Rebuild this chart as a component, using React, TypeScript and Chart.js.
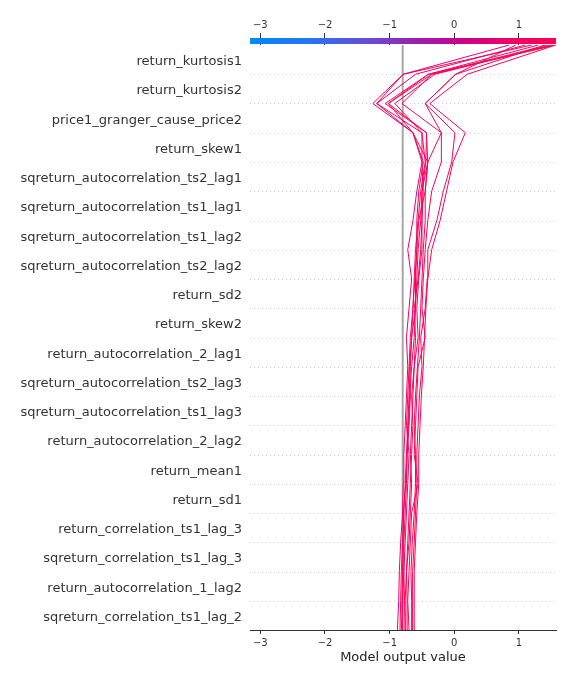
import React, { useEffect, useRef } from 'react';
import { Chart, registerables } from 'chart.js';

Chart.register(...registerables);

// Features, listed top to bottom
const features = [
  'return_kurtosis1',
  'return_kurtosis2',
  'price1_granger_cause_price2',
  'return_skew1',
  'sqreturn_autocorrelation_ts2_lag1',
  'sqreturn_autocorrelation_ts1_lag1',
  'sqreturn_autocorrelation_ts1_lag2',
  'sqreturn_autocorrelation_ts2_lag2',
  'return_sd2',
  'return_skew2',
  'return_autocorrelation_2_lag1',
  'sqreturn_autocorrelation_ts2_lag3',
  'sqreturn_autocorrelation_ts1_lag3',
  'return_autocorrelation_2_lag2',
  'return_mean1',
  'return_sd1',
  'return_correlation_ts1_lag_3',
  'sqreturn_correlation_ts1_lag_3',
  'return_autocorrelation_1_lag2',
  'sqreturn_correlation_ts1_lag_2',
];

const xTicks = [-3, -2, -1, 0, 1];
const xMin = -3.16;
const xMax = 1.573;
const baseValue = -0.798;
const xTitle = 'Model output value';

// Cumulative model output per sample, from the bottom boundary (index 0) to the top (index 20)
const path1 = [-0.88, -0.86, -0.85, -0.83, -0.80, -0.79, -0.78, -0.76, -0.74, -0.72, -0.74, -0.70, -0.66, -0.72, -0.64, -0.58, -0.50, -0.64, -1.26, -0.79, 0.85];
const path2 = [-0.84, -0.83, -0.82, -0.80, -0.78, -0.76, -0.74, -0.72, -0.70, -0.68, -0.66, -0.64, -0.62, -0.60, -0.56, -0.52, -0.45, -0.50, -1.20, -0.60, 1.10];
const path3 = [-0.80, -0.81, -0.80, -0.79, -0.79, -0.75, -0.73, -0.71, -0.69, -0.66, -0.62, -0.60, -0.58, -0.56, -0.52, -0.50, -0.44, -0.43, -1.07, -0.40, 1.30];
const path4 = [-0.76, -0.77, -0.78, -0.76, -0.74, -0.72, -0.70, -0.74, -0.72, -0.70, -0.68, -0.64, -0.61, -0.58, -0.55, -0.45, -0.41, -0.64, -1.02, -0.35, 1.45];
const path5 = [-0.72, -0.73, -0.74, -0.72, -0.70, -0.68, -0.66, -0.64, -0.66, -0.62, -0.56, -0.58, -0.55, -0.50, -0.50, -0.48, -0.50, -0.50, -0.92, -0.30, 1.50];
const path6 = [-0.70, -0.72, -0.70, -0.68, -0.66, -0.56, -0.62, -0.60, -0.58, -0.56, -0.45, -0.50, -0.48, -0.45, -0.41, -0.35, -0.20, -0.20, -0.81, -0.35, 1.55];
const path7 = [-0.66, -0.66, -0.67, -0.65, -0.62, -0.60, -0.60, -0.62, -0.60, -0.57, -0.54, -0.52, -0.50, -0.48, -0.45, -0.45, -0.41, -0.43, -1.02, -0.40, 1.57];
const path8 = [-0.64, -0.65, -0.64, -0.62, -0.60, -0.58, -0.58, -0.56, -0.54, -0.50, -0.52, -0.45, -0.42, -0.41, -0.27, -0.17, -0.04, 0.01, -0.45, 0.02, 1.40];
const path9 = [-0.62, -0.62, -0.62, -0.60, -0.58, -0.55, -0.55, -0.53, -0.51, -0.48, -0.46, -0.44, -0.41, -0.35, -0.22, -0.12, -0.02, 0.17, -0.38, 0.20, 1.57];
const path10 = [-0.75, -0.76, -0.74, -0.70, -0.68, -0.66, -0.68, -0.66, -0.64, -0.62, -0.60, -0.62, -0.56, -0.52, -0.50, -0.50, -0.41, -0.20, -0.45, 0.02, 0.95];
const path11 = [-0.82, -0.80, -0.78, -0.78, -0.76, -0.74, -0.73, -0.70, -0.68, -0.69, -0.66, -0.60, -0.60, -0.58, -0.58, -0.55, -0.48, -0.64, -1.20, -0.79, 1.20];

const paths = [path1, path2, path3, path4, path5, path6, path7, path8, path9, path10, path11];

// SHAP-like red/blue colormap stops
const cmapStops: [number, number[]][] = [
  [0.0, [0, 138, 250]],
  [0.2, [40, 115, 240]],
  [0.4, [110, 72, 210]],
  [0.55, [160, 28, 172]],
  [0.7, [205, 0, 140]],
  [0.85, [240, 0, 105]],
  [1.0, [255, 0, 82]],
];

function cmap(t: number): string {
  const f = Math.max(0, Math.min(1, t));
  for (let i = 1; i < cmapStops.length; i++) {
    const [p1, c1] = cmapStops[i];
    const [p0, c0] = cmapStops[i - 1];
    if (f <= p1) {
      const k = (f - p0) / (p1 - p0);
      const c = c0.map((v, j) => Math.round(v + (c1[j] - v) * k));
      return `rgb(${c[0]},${c[1]},${c[2]})`;
    }
  }
  return 'rgb(255,0,82)';
}

const fmt = (v: number) => (v < 0 ? '\u2212' + Math.abs(v) : String(v));

const FONT = 'DejaVu Sans';

const decorPlugin = {
  id: 'decor',
  beforeDatasetsDraw(chart: any) {
    const { ctx, chartArea: a, scales } = chart;
    const x = scales.x;
    const y = scales.y;
    ctx.save();
    ctx.strokeStyle = '#cccccc';
    ctx.lineWidth = 1;
    ctx.setLineDash([1, 3]);
    for (let i = 1; i < features.length; i++) {
      const py = Math.round(y.getPixelForValue(i)) + 0.5;
      ctx.beginPath();
      ctx.moveTo(a.left, py);
      ctx.lineTo(a.right, py);
      ctx.stroke();
    }
    ctx.setLineDash([]);
    const bx = x.getPixelForValue(baseValue);
    ctx.strokeStyle = '#a6a6a6';
    ctx.lineWidth = 2;
    ctx.beginPath();
    ctx.moveTo(bx, a.top);
    ctx.lineTo(bx, a.bottom);
    ctx.stroke();
    ctx.restore();
  },
  afterDraw(chart: any) {
    const { ctx, chartArea: a } = chart;
    ctx.save();
    const g = ctx.createLinearGradient(a.left, 0, a.right, 0);
    cmapStops.forEach(([p]) => g.addColorStop(p, cmap(p)));
    ctx.fillStyle = g;
    ctx.fillRect(a.left, a.top - 7, a.right - a.left, 6);
    ctx.fillStyle = '#222';
    ctx.font = `13px "${FONT}"`;
    ctx.textAlign = 'center';
    ctx.textBaseline = 'middle';
    ctx.fillText(xTitle, (a.left + a.right) / 2, 657.5);
    ctx.restore();
  },
};

export default function App() {
  const ref = useRef<HTMLCanvasElement | null>(null);

  useEffect(() => {
    if (!ref.current) return;
    Chart.defaults.font.family = FONT;
    const n = features.length;
    const datasets = paths.map((p) => ({
      data: p.map((v, i) => ({ x: v, y: i })),
      borderColor: cmap((p[p.length - 1] - xMin) / (xMax - xMin)),
      borderWidth: 1,
      pointRadius: 0,
      showLine: true,
      fill: false,
      tension: 0,
    }));
    const xTickSetup = (s: any) => {
      s.ticks = xTicks.map((v) => ({ value: v }));
    };
    const chart = new Chart(ref.current, {
      type: 'scatter',
      data: { datasets },
      options: {
        animation: false,
        responsive: false,
        events: [],
        layout: { padding: { left: 0, right: 20, top: 0, bottom: 0 } },
        plugins: { legend: { display: false }, tooltip: { enabled: false }, title: { display: false } },
        scales: {
          x: {
            type: 'linear',
            position: 'bottom',
            min: xMin,
            max: xMax,
            afterBuildTicks: xTickSetup,
            ticks: {
              callback: (v: any) => fmt(Number(v)),
              color: '#333',
              font: { family: FONT, size: 10 },
              padding: 3,
              maxRotation: 0,
              autoSkip: false,
            },
            grid: { drawOnChartArea: false, drawTicks: true, tickLength: 4, color: '#333', tickColor: '#333' },
            border: { display: true, color: '#333', width: 1 },
            afterFit: (s: any) => {
              s.height = 54;
            },
          },
          x2: {
            type: 'linear',
            position: 'top',
            min: xMin,
            max: xMax,
            afterBuildTicks: xTickSetup,
            ticks: {
              callback: (v: any) => fmt(Number(v)),
              color: '#333',
              font: { family: FONT, size: 10 },
              padding: 2,
              maxRotation: 0,
              autoSkip: false,
            },
            grid: { drawOnChartArea: false, drawTicks: true, tickLength: 12, color: '#333', tickColor: '#333' },
            border: { display: false },
            afterFit: (s: any) => {
              s.height = 45;
            },
          },
          y: {
            type: 'linear',
            position: 'left',
            min: 0,
            max: n,
            afterBuildTicks: (s: any) => {
              s.ticks = features.map((_, i) => ({ value: n - i - 0.5 }));
            },
            ticks: {
              callback: (_v: any, idx: number) => features[idx],
              color: '#333',
              font: { family: FONT, size: 13 },
              padding: 8,
              labelOffset: 2,
              autoSkip: false,
            },
            grid: { display: false, drawTicks: false },
            border: { display: false },
            afterFit: (s: any) => {
              s.width = 250;
            },
          },
        },
      },
      plugins: [decorPlugin],
    } as any);
    return () => chart.destroy();
  }, []);

  return (
    <div style={{ position: 'absolute', left: 0, top: 0, width: 576, height: 684, background: '#fff' }}>
      <canvas ref={ref} width={576} height={684} style={{ width: 576, height: 684 }} />
    </div>
  );
}
